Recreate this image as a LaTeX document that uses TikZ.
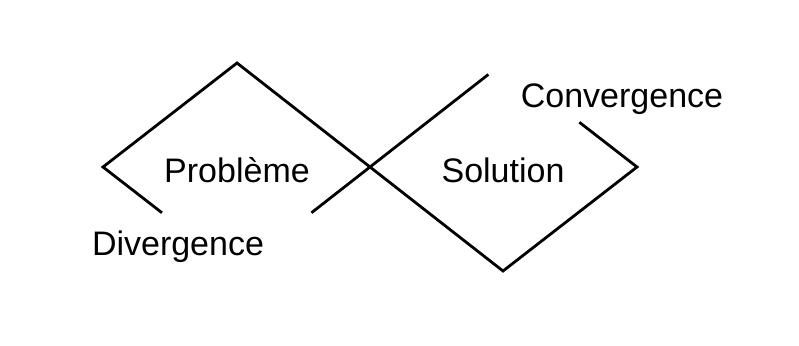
\documentclass[tikz,border=0pt]{standalone}
\usepackage{fontspec}
\setmainfont{Liberation Sans}
\usetikzlibrary{calc}
\tikzset{
  dd/line/.style={line width=2.8pt, line join=miter},
  dd/label/.style={font=\fontsize{34}{40}\selectfont, inner sep=0pt, anchor=base},
}

\begin{document}
\begin{tikzpicture}[x=1pt,y=-1pt]
  \useasboundingbox (0,0) rectangle (799,345);
  % sommets des deux losanges
  \coordinate (ptop) at (237,63);
  \coordinate (pleft) at (103,167);
  \coordinate (pbot) at (237,271);
  \coordinate (cross) at (370,167);
  \coordinate (stop) at (503,63);
  \coordinate (sright) at (637,167);
  \coordinate (sbot) at (503,271);

  \draw[dd/line] ($(pleft)!0.44!(pbot)$) -- (pleft) -- (ptop) -- (cross)
    -- (sbot) -- (sright) -- ($(sright)!0.43!(stop)$);
  \draw[dd/line] ($(cross)!0.44!(pbot)$) -- (cross) -- ($(cross)!0.89!(stop)$);

  \node[dd/label] (probleme) at (237,182) {Problème};
  \node[dd/label] (solution) at (503,182) {Solution};
  \node[dd/label] (divergence) at (178,255) {Divergence};
  \node[dd/label] (convergence) at (622,107) {Convergence};
\end{tikzpicture}
\end{document}
